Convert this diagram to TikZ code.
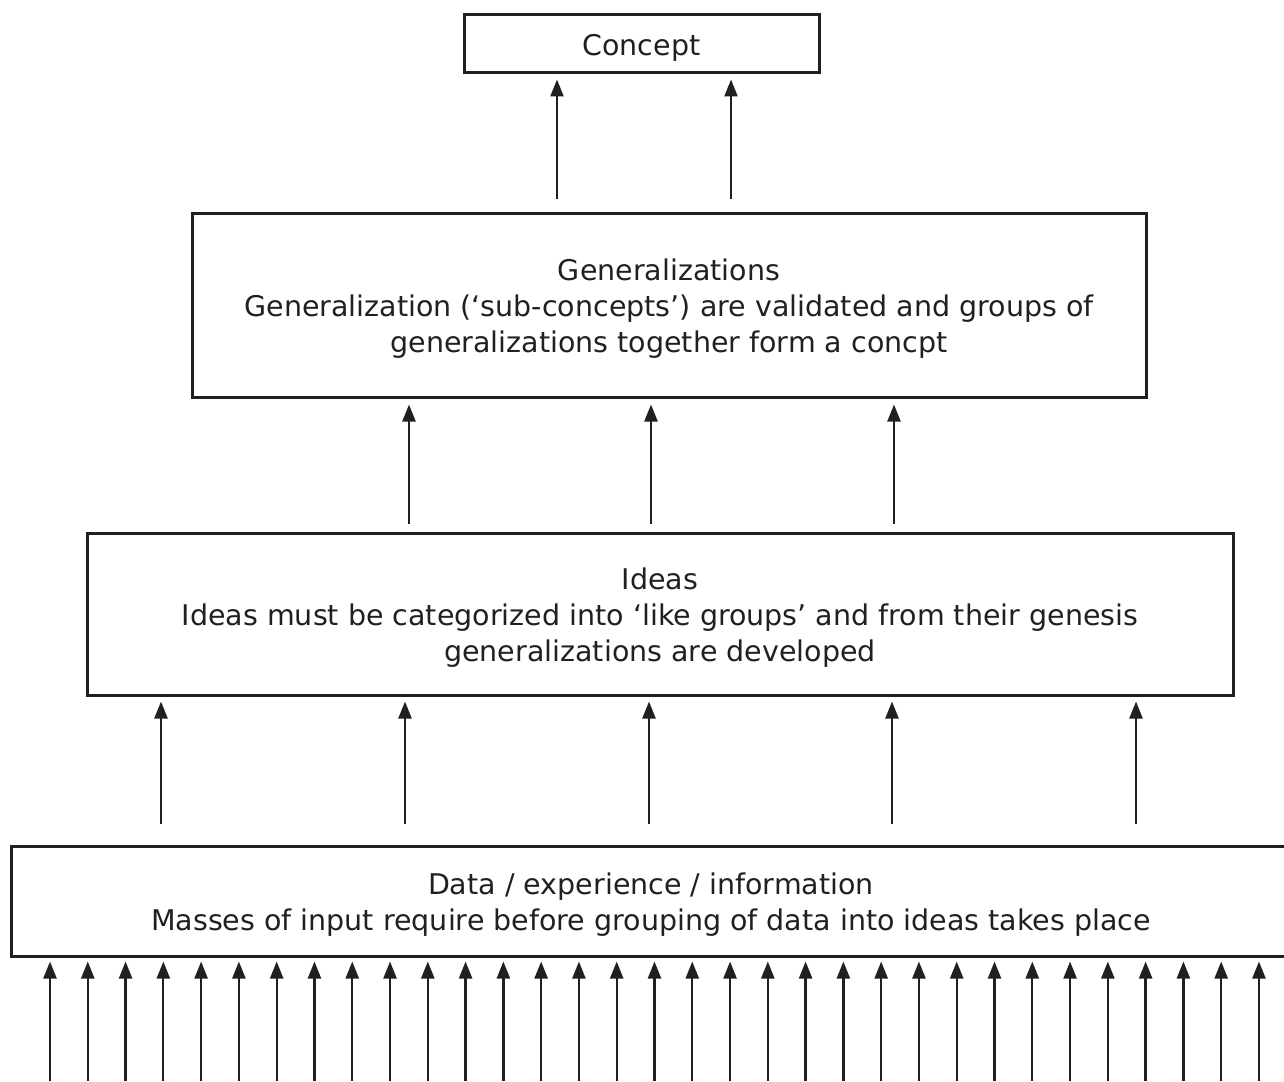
\documentclass[tikz,border=0pt]{standalone}
\usepackage{fontspec}
\setmainfont{DejaVu Sans}
\usetikzlibrary{arrows.meta}
\definecolor{ink}{HTML}{231F20}
\begin{document}
\begin{tikzpicture}[x=0.5pt,y=-0.5pt,
  box/.style={draw=ink, line width=1.5pt, rectangle, inner sep=0pt},
  boxtext/.style={text=ink, inner sep=0pt, align=center, yshift=-2pt,
    font=\fontsize{14.25}{18}\selectfont},
  arr/.style={draw=ink, line width=1.15pt, -{Triangle[width=6.5pt,length=8.5pt]}, fill=ink}]
\useasboundingbox (0,0) rectangle (1284,1081);
\node[box, minimum width=177.5pt, minimum height=29pt,
  label={[boxtext]center:Concept}] (concept) at (641.5,44) {};
\node[box, minimum width=477pt, minimum height=92pt,
  label={[boxtext]center:{Generalizations\\Generalization (‘sub-concepts’) are validated and groups of\\generalizations together form a concpt}}] (gen) at (669,305) {};
\node[box, minimum width=573pt, minimum height=81pt,
  label={[boxtext]center:{Ideas\\Ideas must be categorized into ‘like groups’ and from their genesis\\generalizations are developed}}] (ideas) at (660,614) {};
\node[box, minimum width=640pt, minimum height=55pt,
  label={[boxtext]center:{Data / experience / information\\Masses of input require before grouping of data into ideas takes place}}] (data) at (651,901) {};
\foreach \x in {557,731}
  \draw[arr, shorten <=6.5pt, shorten >=2.5pt] (\x,0 |- gen.north) -- (\x,0 |- concept.south);
\foreach \x in {409,651,894}
  \draw[arr, shorten <=4pt, shorten >=3pt] (\x,0 |- ideas.north) -- (\x,0 |- gen.south);
\foreach \x in {161,405,649,892,1136}
  \draw[arr, shorten <=10.5pt, shorten >=2.5pt] (\x,0 |- data.north) -- (\x,0 |- ideas.south);
\foreach \i in {0,...,32}{
  \coordinate (in\i) at ({50+\i*37.78},1081);
  \draw[arr, shorten >=2pt] (in\i) -- (in\i |- data.south);
}
\end{tikzpicture}
\end{document}
